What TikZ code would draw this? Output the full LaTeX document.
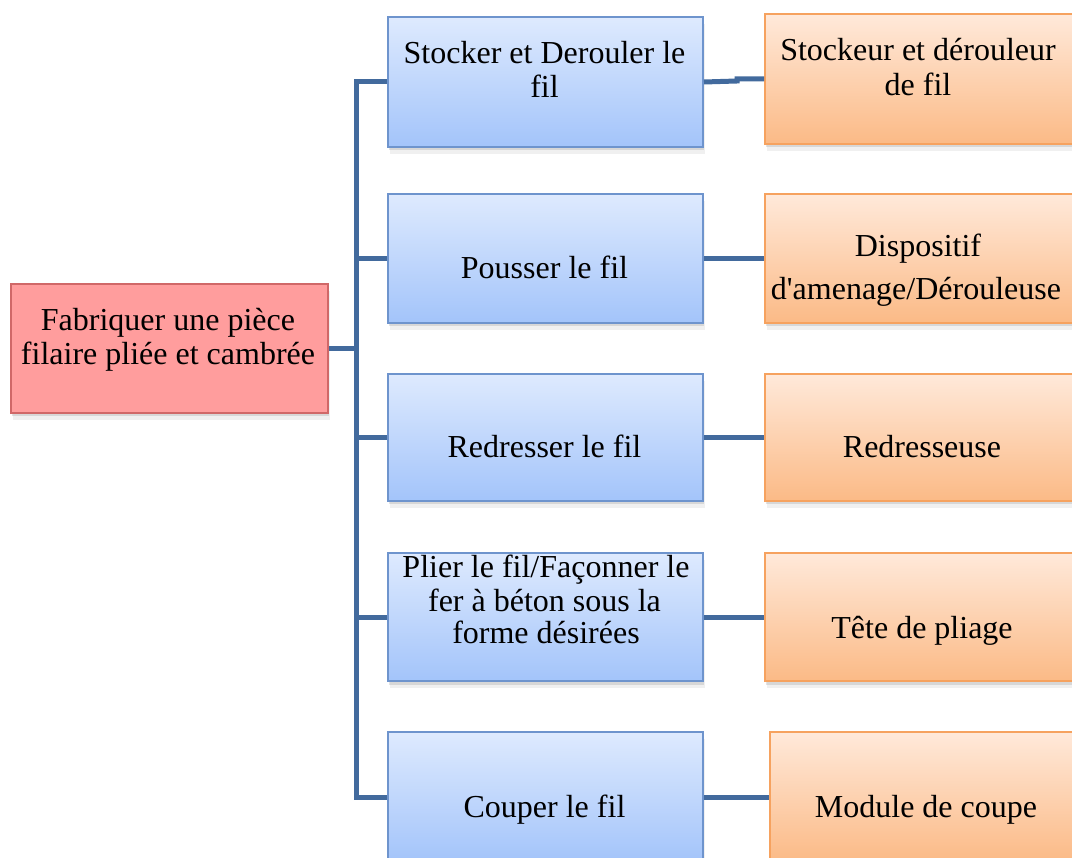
\documentclass[tikz,border=0pt]{standalone}
\usepackage{fontspec}
\setmainfont{Liberation Serif}
\usetikzlibrary{shadows}
\definecolor{linkblue}{RGB}{66,106,157}
\definecolor{bluetop}{RGB}{222,234,254}
\definecolor{bluebot}{RGB}{163,196,250}
\definecolor{blueedge}{RGB}{110,148,205}
\definecolor{orangetop}{RGB}{255,233,218}
\definecolor{orangebot}{RGB}{251,186,134}
\definecolor{orangeedge}{RGB}{246,162,95}
\definecolor{rootfill}{RGB}{255,157,157}
\definecolor{rootedge}{RGB}{208,104,104}
\tikzset{
  box/.style={draw, line width=2pt, rectangle, anchor=north west, inner sep=0pt,
    drop shadow={opacity=0.12, shadow xshift=1.5pt, shadow yshift=-7pt},
    drop shadow={opacity=0.22, shadow xshift=1pt, shadow yshift=-3.5pt}},
  rootbox/.style={box, fill=rootfill, draw=rootedge},
  funcbox/.style={box, top color=bluetop, bottom color=bluebot, draw=blueedge},
  partbox/.style={box, top color=orangetop, bottom color=orangebot, draw=orangeedge},
  lbl/.style={inner sep=0pt, anchor=base, font=\fontsize{32}{35}\selectfont},
  conn/.style={draw=linkblue, line width=5pt, line join=miter}
}
\begin{document}
\begin{tikzpicture}[x=1pt, y=-1pt]
\useasboundingbox (0,0) rectangle (1072,858);
\clip (0,0) rectangle (1072,858);

% root function
\node[rootbox, minimum width=317pt, minimum height=129pt] (root) at (10,283) {};

% service functions
\node[funcbox, minimum width=315pt, minimum height=130pt] (f1) at (387,16) {};
\node[funcbox, minimum width=315pt, minimum height=129pt] (f2) at (387,193) {};
\node[funcbox, minimum width=315pt, minimum height=127pt] (f3) at (387,373) {};
\node[funcbox, minimum width=315pt, minimum height=128pt] (f4) at (387,552) {};
\node[funcbox, minimum width=315pt, minimum height=130pt] (f5) at (387,731) {};

% technical solutions
\node[partbox, minimum width=318pt, minimum height=130pt] (p1) at (764,13) {};
\node[partbox, minimum width=318pt, minimum height=129pt] (p2) at (764,193) {};
\node[partbox, minimum width=318pt, minimum height=127pt] (p3) at (764,373) {};
\node[partbox, minimum width=318pt, minimum height=128pt] (p4) at (764,552) {};
\node[partbox, minimum width=313pt, minimum height=130pt] (p5) at (769,731) {};

% labels, one node per printed line
\node[lbl] (troota) at (168,331) {Fabriquer une pièce};
\node[lbl] (trootb) at (168,365) {filaire pliée et cambrée};
\node[lbl] (tf1a) at (544.5,64) {Stocker et Derouler le};
\node[lbl] (tf1b) at (544.5,98) {fil};
\node[lbl] (tf2) at (544.5,279) {Pousser le fil};
\node[lbl] (tf3) at (544.5,458) {Redresser le fil};
\node[lbl] (tf4a) at (546,578) {Plier le fil/Façonner le};
\node[lbl] (tf4b) at (544.5,612) {fer à béton sous la};
\node[lbl] (tf4c) at (546,644) {forme désirées};
\node[lbl] (tf5) at (544.5,817) {Couper le fil};
\node[lbl] (tp1a) at (918,61) {Stockeur et dérouleur};
\node[lbl] (tp1b) at (918,96) {de fil};
\node[lbl] (tp2a) at (918,257) {Dispositif};
\node[lbl] (tp2b) at (916,300) {d\textquotesingle amenage/Dérouleuse};
\node[lbl] (tp3) at (922,458) {Redresseuse};
\node[lbl] (tp4) at (922,638) {Tête de pliage};
\node[lbl] (tp5) at (926,817) {Module de coupe};

% connectors
\coordinate (bus) at (356,0);
\coordinate (jog) at (737,81);
\draw[conn] (root.east) -- (root.east -| bus);
\draw[conn] (f1.west) -- (f1.west -| bus) -- (f5.west -| bus) -- (f5.west);
\draw[conn] (f2.west -| bus) -- (f2.west);
\draw[conn] (f3.west -| bus) -- (f3.west);
\draw[conn] (f4.west -| bus) -- (f4.west);
\draw[conn] (f1.east) -- (jog) -- (jog |- p1.west) -- (p1.west);
\draw[conn] (f2.east) -- (f2.east -| p2.west);
\draw[conn] (f3.east) -- (f3.east -| p3.west);
\draw[conn] (f4.east) -- (f4.east -| p4.west);
\draw[conn] (f5.east) -- (f5.east -| p5.west);
\end{tikzpicture}
\end{document}
